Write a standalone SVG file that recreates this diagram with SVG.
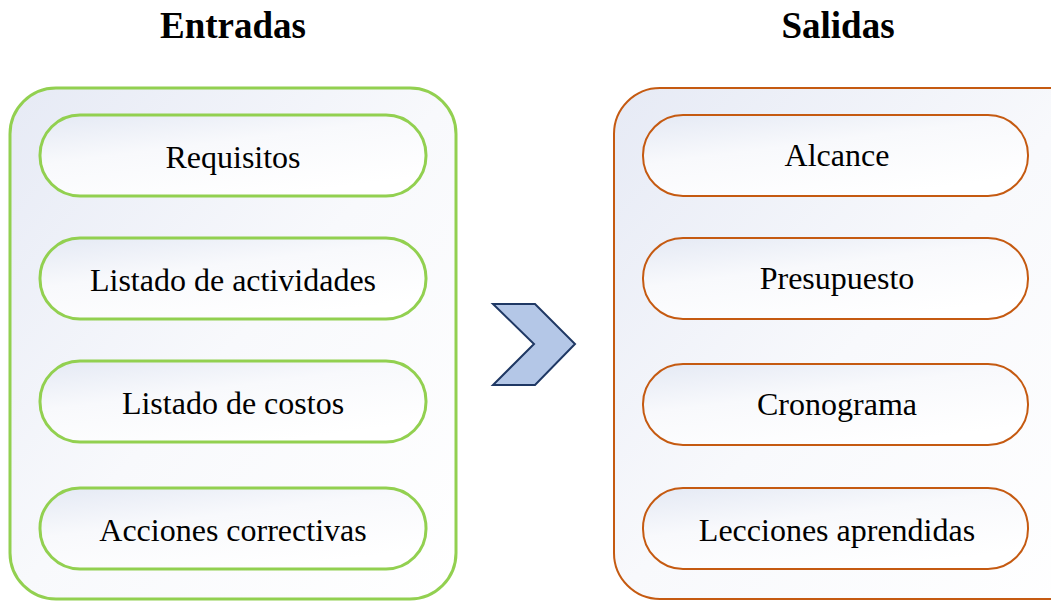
<svg xmlns="http://www.w3.org/2000/svg" width="1051" height="601" viewBox="0 0 1051 601">
<defs>
<linearGradient id="g" x1="0" y1="0" x2="1" y2="1">
<stop offset="0" stop-color="#E6EAF5"/>
<stop offset="0.5" stop-color="#F8F9FC"/>
<stop offset="1" stop-color="#FFFFFF"/>
</linearGradient>
<linearGradient id="gp" x1="0" y1="0" x2="0.6" y2="1">
<stop offset="0" stop-color="#E4E9F4"/>
<stop offset="0.45" stop-color="#F8F9FC"/>
<stop offset="1" stop-color="#FFFFFF"/>
</linearGradient>
<style>
.title{font-family:"Liberation Serif",serif;font-weight:bold;font-size:37px;fill:#000;text-anchor:middle}
.lbl{font-family:"Liberation Serif",serif;font-size:32px;fill:#000;text-anchor:middle}
.gOuter{fill:url(#g);stroke:#92D050;stroke-width:3}
.gPill{fill:url(#gp);stroke:#92D050;stroke-width:3}
.oOuter{fill:url(#g);stroke:#C55A11;stroke-width:2}
.oPill{fill:url(#gp);stroke:#C55A11;stroke-width:2}
</style>
</defs>
<text class="title" x="233" y="38">Entradas</text>
<text class="title" x="838" y="38">Salidas</text>
<g id="entradas">
<rect class="gOuter" x="10" y="88" width="446" height="511" rx="46"/>
</g>
<g id="req"><rect class="gPill" x="40" y="115" width="386" height="81" rx="40"/><text class="lbl" x="233" y="168">Requisitos</text></g>
<g id="act"><rect class="gPill" x="40" y="238" width="386" height="81" rx="40"/><text class="lbl" x="233" y="291">Listado de actividades</text></g>
<g id="cos"><rect class="gPill" x="40" y="361" width="386" height="81" rx="40"/><text class="lbl" x="233" y="414">Listado de costos</text></g>
<g id="acc"><rect class="gPill" x="40" y="488" width="386" height="81" rx="40"/><text class="lbl" x="233" y="541">Acciones correctivas</text></g>
<g id="salidas">
<rect class="oOuter" x="614" y="88" width="480" height="511" rx="46"/>
</g>
<g id="alc"><rect class="oPill" x="643" y="115" width="385" height="81" rx="40"/><text class="lbl" x="837" y="166">Alcance</text></g>
<g id="pre"><rect class="oPill" x="643" y="238" width="385" height="81" rx="40"/><text class="lbl" x="837" y="289">Presupuesto</text></g>
<g id="cro"><rect class="oPill" x="643" y="364" width="385" height="81" rx="40"/><text class="lbl" x="837" y="415">Cronograma</text></g>
<g id="lec"><rect class="oPill" x="643" y="488" width="385" height="81" rx="40"/><text class="lbl" x="837" y="541">Lecciones aprendidas</text></g>
<g id="connectors">
<polygon points="493,304 535,304 575,344 535,385 493,385 534,344" fill="#B4C7E7" stroke="#1F3864" stroke-width="2" stroke-linejoin="miter"/>
</g>
</svg>
